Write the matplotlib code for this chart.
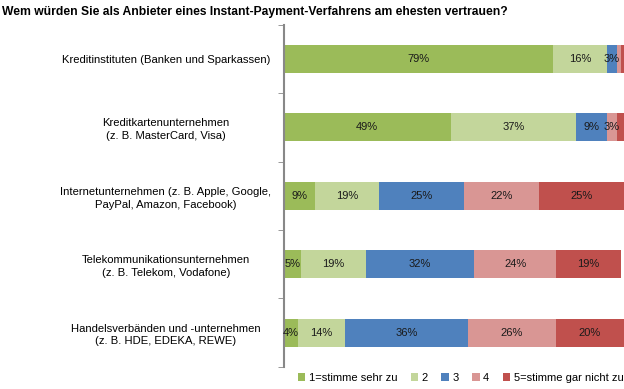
import matplotlib
matplotlib.use("Agg")
import matplotlib.pyplot as plt
import numpy as np

plt.rcParams['font.family'] = ['Liberation Sans', 'DejaVu Sans']

categories = [
    "Kreditinstituten (Banken und Sparkassen)",
    "Kreditkartenunternehmen\n(z. B. MasterCard, Visa)",
    "Internetunternehmen (z. B. Apple, Google,\nPayPal, Amazon, Facebook)",
    "Telekommunikationsunternehmen\n(z. B. Telekom, Vodafone)",
    "Handelsverbänden und -unternehmen\n(z. B. HDE, EDEKA, REWE)",
]
series_names = ["1=stimme sehr zu", "2", "3", "4", "5=stimme gar nicht zu"]
s1 = [79, 49, 9, 5, 4]
s2 = [16, 37, 19, 19, 14]
s3 = [3, 9, 25, 32, 36]
s4 = [1, 3, 22, 24, 26]
s5 = [1, 2, 25, 19, 20]
colors = ["#9BBB59", "#C3D69B", "#4F81BD", "#D99694", "#C0504D"]

fig = plt.figure(figsize=(6.24, 3.89), dpi=100)
ax = fig.add_axes([0.455, 0.057, 0.545, 0.879])

y = np.arange(len(categories))
left = np.zeros(len(categories))
for name, vals, col in zip(series_names, [s1, s2, s3, s4, s5], colors):
    vals = np.array(vals, dtype=float)
    ax.barh(y, vals, left=left, height=0.41, color=col, label=name)
    for yi, (l, v) in enumerate(zip(left, vals)):
        if v >= 3:
            ax.text(l + v / 2, yi, f"{int(v)}%", ha="center", va="center",
                    fontsize=8, color="#1a1a1a")
    left += vals

ax.set_xlim(0, 100)
ax.set_ylim(len(categories) - 0.5, -0.5)
ax.set_yticks(y)
ax.set_yticklabels(categories, fontsize=8.1, ha="center", multialignment="center",
                   linespacing=1.35)
ax.tick_params(axis="y", length=0, pad=85)
ax.set_yticks(np.arange(-0.5, len(categories), 1), minor=True)
ax.tick_params(axis="y", which="minor", length=4, color="#888888", direction="out")
ax.set_xticks([])
for s in ["top", "right", "bottom"]:
    ax.spines[s].set_visible(False)
ax.spines["left"].set_color("#888888")
ax.spines["left"].set_linewidth(1.5)

fig.text(0.003, 0.985, "Wem würden Sie als Anbieter eines Instant-Payment-Verfahrens am ehesten vertrauen?",
         fontsize=8.7, fontweight="bold", ha="left", va="top")

leg = fig.legend(loc="center", bbox_to_anchor=(0.738, 0.028), ncol=5, frameon=False,
                 fontsize=8, handlelength=0.7, handleheight=0.7, handletextpad=0.3,
                 columnspacing=1.2)

fig.savefig("out.png", dpi=100)
